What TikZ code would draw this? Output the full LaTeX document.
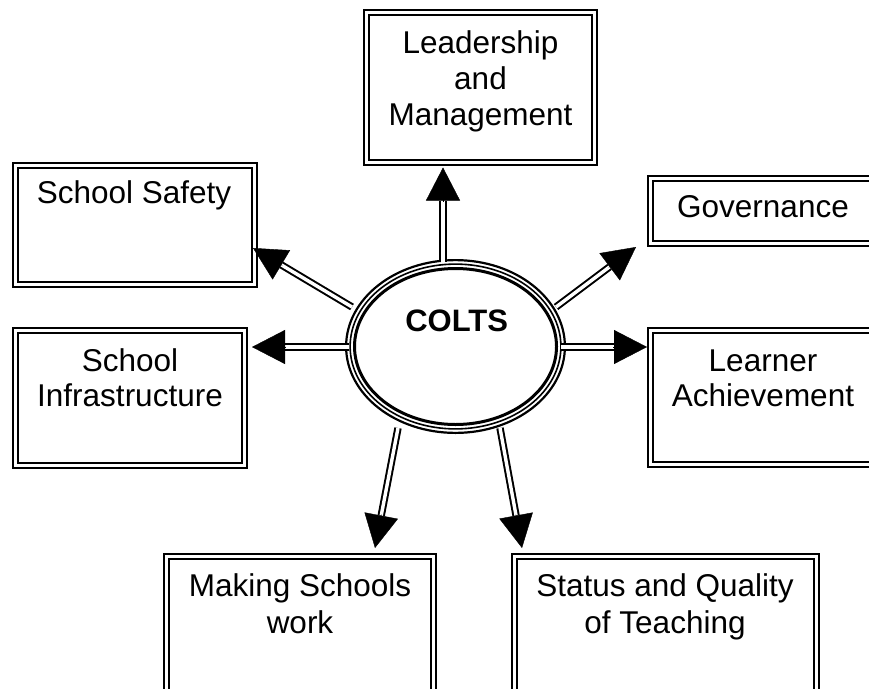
\documentclass[tikz,border=0pt]{standalone}
\usepackage{fontspec}
\setmainfont{Liberation Sans}
\usetikzlibrary{shapes.geometric,arrows.meta,calc}
\begin{document}
\begin{tikzpicture}[x=1pt,y=-1pt,
  box/.style={draw, double, line width=2.4pt, double distance=2.4pt, inner sep=0pt, outer sep=0pt},
  txt/.style={inner sep=0pt, anchor=base, font=\fontsize{31.5}{36}\selectfont},
  shaft/.style={draw, double, line width=2pt, double distance=3.4pt},
  arrhead/.style={-{Triangle[length=33pt,width=34pt]}, line width=0.4pt}
]
\useasboundingbox (0,0) rectangle (869,688);
\fill[white] (0,0) rectangle (869,688);
\clip (0,0) rectangle (869,688);

% boxes
\node[box, minimum width=228pt, minimum height=150pt] (lead) at (480.5,87.5) {};
\node[box, minimum width=239pt, minimum height=119pt] (safe) at (135,225) {};
\node[box, minimum width=225pt, minimum height=65pt] (gov) at (763,211) {};
\node[box, minimum width=229pt, minimum height=135pt] (infra) at (130,398) {};
\node[box, minimum width=225pt, minimum height=134pt] (learn) at (763,397.5) {};
\node[box, minimum width=267pt, minimum height=160pt] (make) at (300,636.5) {};
\node[box, minimum width=302pt, minimum height=160pt] (status) at (665.5,636.5) {};

% texts
\node[txt] (leadA) at (480.5,53.3) {Leadership};
\node[txt] (leadB) at (480.5,89.3) {and};
\node[txt] (leadC) at (480.5,125.5) {Management};
\node[txt] (safeA) at (134,203.3) {School Safety};
\node[txt] (govA) at (763,217.3) {Governance};
\node[txt] (infraA) at (130,371.7) {School};
\node[txt] (infraB) at (130,406.7) {Infrastructure};
\node[txt] (learnA) at (763,371.7) {Learner};
\node[txt] (learnB) at (763,406.7) {Achievement};
\node[txt] (makeA) at (300,596.7) {Making Schools};
\node[txt] (makeB) at (300,633.3) {work};
\node[txt] (statA) at (665,596.7) {Status and Quality};
\node[txt] (statB) at (665,633.3) {of Teaching};

% central ellipse (triple line)
\node[ellipse, draw, line width=2.2pt, minimum width=218.8pt, minimum height=172.8pt, inner sep=0pt] (colts) at (455.5,346.5) {};
\draw[line width=1.6pt] (colts.center) ellipse [x radius=105.4, y radius=82.4];
\draw[line width=3pt] (colts.center) ellipse [x radius=101, y radius=78];
\node[inner sep=0pt, anchor=base, font=\bfseries\fontsize{31}{36}\selectfont] (coltsT) at (456.7,331.7) {COLTS};

% connector end points
\coordinate (s1) at (443,262);   \coordinate (t1) at (443,167.5);
\coordinate (s2) at (352,307);   \coordinate (t2) at (253,248);
\coordinate (s3) at (556,307);   \coordinate (t3) at (636,247);
\coordinate (s4) at (349,347);   \coordinate (t4) at (252,347);
\coordinate (s5) at (561,347);   \coordinate (t5) at (647,347);
\coordinate (s6) at (398,428);   \coordinate (t6) at (375,548);
\coordinate (s7) at (500,428);   \coordinate (t7) at (522,548);

\foreach \i in {1,...,7}{
  \draw[shaft] (s\i) -- ($(t\i)!33pt!(s\i)$);
  \draw[arrhead] ($(t\i)!34pt!(s\i)$) -- (t\i);
}
\end{tikzpicture}
\end{document}
